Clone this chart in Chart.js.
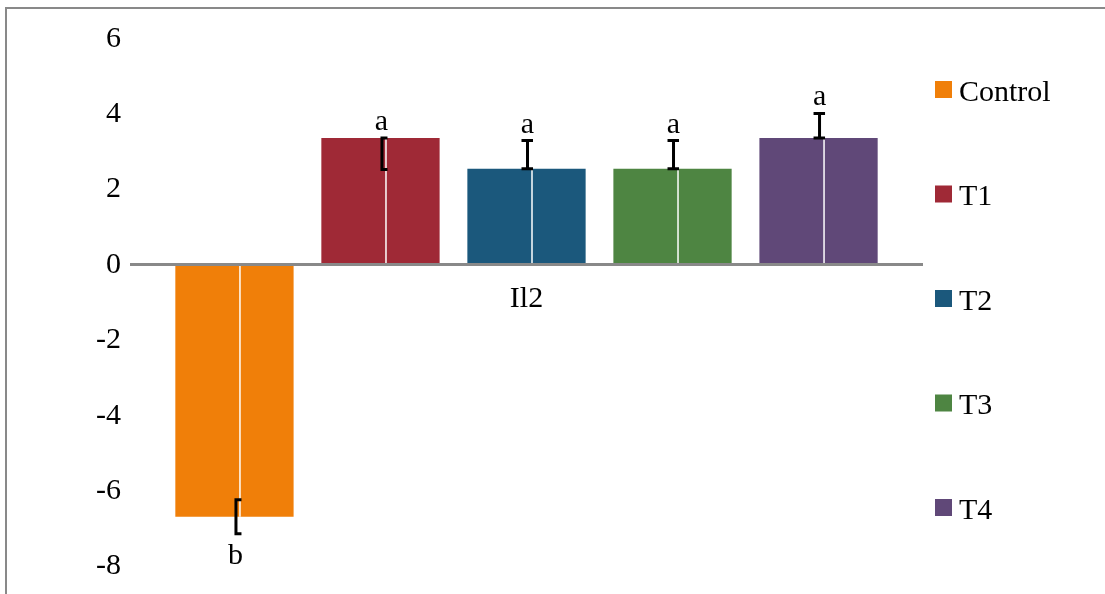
<!DOCTYPE html>
<html>
<head>
<meta charset="utf-8">
<title>Il2</title>
<script src="https://cdn.jsdelivr.net/npm/chart.js@4.4.1/dist/chart.umd.min.js"></script>
<style>
  html, body { margin: 0; padding: 0; background: #fff; }
  #wrap { position: relative; width: 1105px; height: 594px; }
</style>
</head>
<body>
<div id="wrap"><canvas id="chart"></canvas></div>
<script>
const categories = ['Il2']
const seriesNames = ['Control', 'T1', 'T2', 'T3', 'T4']
const seriesValues = [-6.68, 3.37, 2.55, 2.55, 3.37]
const errorUp = [0.45, 0, 0.75, 0.75, 0.65]
const errorDown = [0.45, 0.84, 0, 0, 0]
const letters = ['b', 'a', 'a', 'a', 'a']
const yTicks = [-8, -6, -4, -2, 0, 2, 4, 6]

const colors = ['#f07f09', '#9f2936', '#1b587c', '#4e8542', '#604878']
const halfCaps = [true, true, false, false, false] // "[" style error bars
const serif = '"Liberation Serif", "Times New Roman", serif'
const gray = '#898989'

// gray frame on the top and left edges
const framePlugin = {
  id: 'frame',
  beforeDraw(chart) {
    const ctx = chart.ctx
    ctx.save()
    ctx.strokeStyle = gray
    ctx.lineWidth = 2
    ctx.beginPath()
    ctx.moveTo(6, chart.height)
    ctx.lineTo(6, 8)
    ctx.lineTo(chart.width, 8)
    ctx.stroke()
    ctx.restore()
  }
}

// white centre line, error bars and letters on each bar
const barMarks = {
  id: 'barMarks',
  afterDatasetsDraw(chart) {
    const ctx = chart.ctx
    const yScale = chart.scales.y
    ctx.save()
    chart.data.datasets.forEach((ds, i) => {
      const bar = chart.getDatasetMeta(i).data[0]
      const cx = bar.x
      const value = ds.data[0]

      ctx.strokeStyle = '#fff'
      ctx.lineWidth = 1.5
      ctx.beginPath()
      ctx.moveTo(cx + 5.5, bar.base)
      ctx.lineTo(cx + 5.5, bar.y)
      ctx.stroke()

      const top = yScale.getPixelForValue(value + errorUp[i])
      const bottom = yScale.getPixelForValue(value - errorDown[i])
      const half = halfCaps[i]
      const ex = cx + (half ? 1.5 : 1)
      const capL = half ? ex - 1.5 : cx - 5
      const capR = half ? cx + 7 : cx + 6.5
      ctx.strokeStyle = '#000'
      ctx.lineWidth = 3
      ctx.beginPath()
      ctx.moveTo(capL, top)
      ctx.lineTo(capR, top)
      ctx.moveTo(ex, top)
      ctx.lineTo(ex, bottom)
      ctx.moveTo(capL, bottom)
      ctx.lineTo(capR, bottom)
      ctx.stroke()

      ctx.fillStyle = '#000'
      ctx.font = `30px ${serif}`
      ctx.textAlign = 'center'
      ctx.textBaseline = 'alphabetic'
      if (value >= 0) {
        ctx.fillText(letters[i], cx + 1, Math.min(top, bar.y) - 8)
      } else {
        ctx.fillText(letters[i], cx + 1, Math.max(bottom, bar.y) + 30)
      }
    })
    ctx.restore()
  }
}

// legend stacked down the right side
const sideLegend = {
  id: 'sideLegend',
  afterDraw(chart) {
    const ctx = chart.ctx
    const left = chart.chartArea.right + 13
    ctx.save()
    ctx.font = `30px ${serif}`
    ctx.textBaseline = 'alphabetic'
    ctx.textAlign = 'left'
    chart.data.datasets.forEach((ds, i) => {
      const cy = 89.5 + i * 104.5
      ctx.fillStyle = ds.backgroundColor
      ctx.fillRect(left, cy - 8.5, 17, 17)
      ctx.fillStyle = '#000'
      ctx.fillText(ds.label, left + 24, cy + 11)
    })
    ctx.restore()
  }
}

function start() {
  const ctx = document.getElementById('chart').getContext('2d')
  new Chart(ctx, {
    type: 'bar',
    data: {
      labels: categories,
      datasets: seriesNames.map((name, i) => ({
        label: name,
        data: [seriesValues[i]],
        backgroundColor: colors[i],
        borderWidth: 0,
        categoryPercentage: 0.923,
        barPercentage: 0.81
      }))
    },
    options: {
      responsive: true,
      maintainAspectRatio: false,
      animation: false,
      layout: { padding: { left: 0, right: 183, top: 0, bottom: 0 } },
      plugins: {
        legend: { display: false },
        tooltip: { enabled: false }
      },
      scales: {
        x: {
          position: { y: 0 },
          afterFit: s => {
            s.height = 0
            s.paddingLeft = s.paddingRight = 0
          },
          grid: { display: false, drawTicks: false },
          border: { color: gray, width: 3, z: 1 },
          ticks: { color: '#000', font: { family: serif, size: 30 }, padding: 16 }
        },
        y: {
          min: -8.73,
          max: 7.03,
          afterFit: s => {
            s.width = 131
            s.paddingTop = s.paddingBottom = 0
          },
          afterBuildTicks: s => { s.ticks = yTicks.map(v => ({ value: v })) },
          grid: { display: false, drawTicks: false },
          border: { display: false },
          ticks: { color: '#000', font: { family: serif, size: 30 }, padding: 10 }
        }
      }
    },
    plugins: [framePlugin, barMarks, sideLegend]
  })
}

document.addEventListener('DOMContentLoaded', start)
</script>
</body>
</html>
